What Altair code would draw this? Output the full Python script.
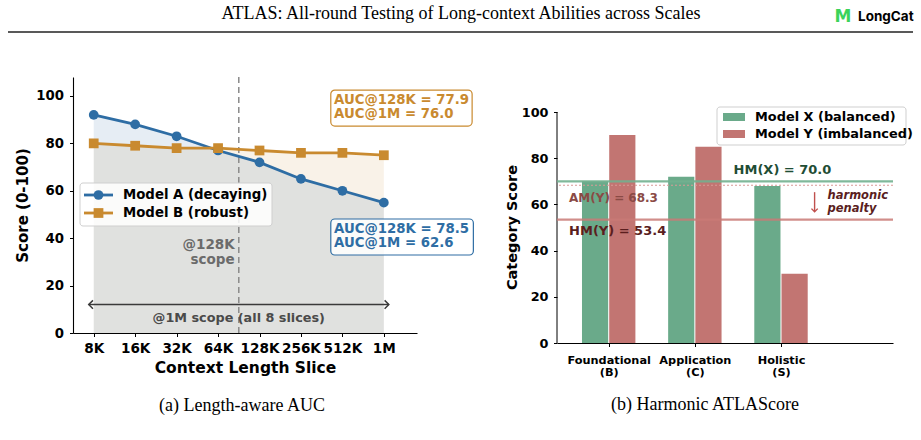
import altair as alt
import pandas as pd

# ---------------- data ----------------
slices = ["8K", "16K", "32K", "64K", "128K", "256K", "512K", "1M"]
model_a = [92, 88, 83, 77, 72, 65, 60, 55]
model_b = [80, 79, 78, 78, 77, 76, 76, 75]
series = ["Model A (decaying)", "Model B (robust)"]
auc_a = [78.5, 62.6]
auc_b = [77.9, 76.0]

categories = [["Foundational", "(B)"], ["Application", "(C)"], ["Holistic", "(S)"]]
bar_series = ["Model X (balanced)", "Model Y (imbalanced)"]
model_x = [70, 72, 68]
model_y = [90, 85, 30]
hm_x = 70.0
am_y = 68.3
hm_y = 53.4

header_title = "ATLAS: All-round Testing of Long-context Abilities across Scales"
captions = ["(a) Length-aware AUC", "(b) Harmonic ATLAScore"]

# ---------------- styles ----------------
FONT = "DejaVu Sans"
SERIF = "Liberation Serif"
BLUE = "#2e6da4"
ORANGE = "#c98a2f"
GREEN = "#62a584"
RED = "#bf6e6a"

LW, LH = 344, 256      # left plot size
RW, RH = 336, 266      # right plot size


def one(text):
    return pd.DataFrame({"t": [text]})


def txt(text, **kw):
    base = dict(font=FONT, fontWeight="bold", fontSize=13.3, align="left", baseline="middle")
    base.update(kw)
    return alt.Chart(one(text)).mark_text(**base)


# ---------------- left panel ----------------
line_df = pd.DataFrame({"i": list(range(len(slices))), "A": model_a, "B": model_b})
long_df = pd.DataFrame({
    "i": list(range(len(slices))) * 2,
    "s": ["A"] * len(slices) + ["B"] * len(slices),
    "v": model_a + model_b,
})

slice_expr = "[" + ",".join("'%s'" % s for s in slices) + "][datum.value]"
xL = alt.X("i:Q", scale=alt.Scale(domain=[-0.5, 7.8], nice=False, zero=False),
           axis=alt.Axis(values=list(range(len(slices))), labelExpr=slice_expr,
                         title="Context Length Slice", titleY=34, titleBaseline="middle",
                         labelPadding=5, tickSize=3.5, labelFontSize=13.6, titleFontSize=15.5,
                         grid=False, labelFlush=False, zindex=1))
yscaleL = alt.Scale(domain=[0, 108], nice=False)
yaxL = alt.Axis(values=[0, 20, 40, 60, 80, 100], title="Score (0-100)", titleX=-51, titleY=LH / 2,
                titleAngle=-90, titleAlign="center", titleBaseline="middle",
                labelPadding=6, tickSize=3.5, labelFontSize=13.3, titleFontSize=15, grid=False, zindex=1)

bg = alt.Chart(one("bg")).mark_rect(fill="white", strokeWidth=0).encode(
    x=alt.value(-73), x2=alt.value(921 - 73), y=alt.value(-77), y2=alt.value(440 - 77))

areaB = alt.Chart(line_df).mark_area(color=ORANGE, opacity=0.11).encode(
    x=xL, y=alt.Y("B:Q", scale=yscaleL, axis=yaxL), y2=alt.datum(0))
areaA = alt.Chart(line_df).mark_area(color=BLUE, opacity=0.12).encode(
    x=xL, y=alt.Y("A:Q", scale=yscaleL, axis=yaxL), y2=alt.datum(0))

vline = alt.Chart(one("v")).mark_rule(color="#8a8a8a", strokeDash=[6, 4], strokeWidth=1.5).encode(
    x=alt.datum(3.5), y=alt.datum(0), y2=alt.datum(108))

col = alt.Color("s:N", scale=alt.Scale(domain=["A", "B"], range=[BLUE, ORANGE]), legend=None)
lines = alt.Chart(long_df).mark_line(strokeWidth=2.8).encode(
    x=xL, y=alt.Y("v:Q", scale=yscaleL, axis=yaxL), color=col, detail="s:N")
points = alt.Chart(long_df).mark_point(filled=True, opacity=1, size=95).encode(
    x=xL, y=alt.Y("v:Q", scale=yscaleL, axis=yaxL), color=col,
    shape=alt.Shape("s:N", scale=alt.Scale(domain=["A", "B"], range=["circle", "square"]), legend=None))

scope128 = alt.Chart(pd.DataFrame({"t": ["@128K", "scope"], "y": [37, 31]})).mark_text(
    font=FONT, fontWeight="bold", fontSize=13.5, color="#6b6b6b", align="right", baseline="middle").encode(
    x=alt.datum(3.4), y=alt.Y("y:Q", scale=yscaleL, axis=yaxL), text="t:N")

arrow = alt.Chart(one("a")).mark_rule(color="#3a3a3a", strokeWidth=1.5).encode(
    x=alt.datum(-0.12), x2=alt.datum(7.12), y=alt.datum(12))
head_r = alt.Chart(one("r")).mark_point(shape="M-1,-1L0,0L-1,1", filled=False, size=70,
                                        color="#3a3a3a", strokeWidth=1.5, opacity=1).encode(
    x=alt.datum(7.12), y=alt.datum(12))
head_l = alt.Chart(one("l")).mark_point(shape="M1,-1L0,0L1,1", filled=False, size=70,
                                        color="#3a3a3a", strokeWidth=1.5, opacity=1).encode(
    x=alt.datum(-0.12), y=alt.datum(12))
scope1m = txt("@1M scope (all 8 slices)", align="center", color="#4a4a4a", fontSize=12.8).encode(
    x=alt.datum(3.5), y=alt.datum(6.2), text="t:N")

boxB = alt.Chart(one("b")).mark_rect(fill="white", fillOpacity=0.85, stroke=ORANGE, strokeWidth=1.2,
                                     cornerRadius=4).encode(
    x=alt.datum(5.72), x2=alt.datum(9.13), y=alt.datum(87.3), y2=alt.datum(102.5))
txtB1 = txt("AUC@128K = %.1f" % auc_b[0], color=ORANGE).encode(x=alt.datum(5.8), y=alt.datum(98.3), text="t:N")
txtB2 = txt("AUC@1M   = %.1f" % auc_b[1], color=ORANGE).encode(x=alt.datum(5.8), y=alt.datum(92.4), text="t:N")

boxA = alt.Chart(one("b")).mark_rect(fill="white", fillOpacity=0.85, stroke=BLUE, strokeWidth=1.2,
                                     cornerRadius=4).encode(
    x=alt.datum(5.72), x2=alt.datum(9.16), y=alt.datum(32.9), y2=alt.datum(48.1))
txtA1 = txt("AUC@128K = %.1f" % auc_a[0], color=BLUE).encode(x=alt.datum(5.8), y=alt.datum(43.9), text="t:N")
txtA2 = txt("AUC@1M   = %.1f" % auc_a[1], color=BLUE).encode(x=alt.datum(5.8), y=alt.datum(38.0), text="t:N")

# manual legend (left)
legL_box = alt.Chart(one("lg")).mark_rect(fill="white", fillOpacity=0.85, stroke="#cfcfcf",
                                          strokeWidth=1, cornerRadius=3).encode(
    x=alt.value(7), x2=alt.value(199), y=alt.value(106), y2=alt.value(149))
legL = []
for k, (name, c, shp) in enumerate(zip(series, [BLUE, ORANGE], ["circle", "square"])):
    yy = 118 + 18 * k
    legL.append(alt.Chart(one(name)).mark_rule(color=c, strokeWidth=2.8).encode(
        x=alt.value(11), x2=alt.value(40), y=alt.value(yy)))
    legL.append(alt.Chart(one(name)).mark_point(color=c, filled=True, opacity=1, size=95, shape=shp).encode(
        x=alt.value(25.5), y=alt.value(yy)))
    legL.append(txt(name, color="black").encode(x=alt.value(50), y=alt.value(yy), text="t:N"))

# header & caption (positioned relative to the left panel)
header = alt.Chart(one(header_title)).mark_text(font=SERIF, fontSize=18, color="black",
                                                align="center", baseline="middle").encode(
    x=alt.value(388), y=alt.value(-63), text="t:N")
hrule = alt.Chart(one("h")).mark_rule(color="#222222", strokeWidth=1.3).encode(
    x=alt.value(-65), x2=alt.value(840), y=alt.value(-45))
logo_icon = alt.Chart(one("M")).mark_text(font=FONT, fontWeight="bold", fontSize=17, color="#3bd35a",
                                          align="center", baseline="middle").encode(
    x=alt.value(770), y=alt.value(-60), text="t:N")
logo_txt = alt.Chart(one("LongCat")).mark_text(font="Inter", fontWeight="bold", fontSize=13.5, color="black",
                                               align="left", baseline="middle").encode(
    x=alt.value(785), y=alt.value(-60), text="t:N")
capL = alt.Chart(one(captions[0])).mark_text(font=SERIF, fontSize=18, color="black",
                                             align="center", baseline="middle").encode(
    x=alt.value(169), y=alt.value(329), text="t:N")

left = alt.layer(bg, areaB, areaA, vline, lines, points, scope128, arrow, head_r, head_l, scope1m,
                 boxB, txtB1, txtB2, boxA, txtA1, txtA2, legL_box, *legL,
                 header, hrule, logo_icon, logo_txt, capL).properties(width=LW, height=LH)

# ---------------- right panel ----------------
bar_df = pd.DataFrame({
    "i": [0, 1, 2] * 2,
    "ser": [0] * 3 + [1] * 3,
    "v": model_x + model_y,
})
cat_expr = "[" + ",".join("['%s','%s']" % (a, b) for a, b in categories) + "][datum.value]"
ytop = 100 * RH / 231.0
yscaleR = alt.Scale(domain=[0, ytop], nice=False)
yaxR = alt.Axis(values=[0, 20, 40, 60, 80, 100], title="Category Score", titleX=-45, titleY=150,
                titleAngle=-90, titleAlign="center", titleBaseline="middle", domain=False,
                labelPadding=5.5, tickSize=3.5, labelFontSize=12.8, titleFontSize=14.5, grid=False)
xscaleR = alt.Scale(domain=[-0.6, 3.3], nice=False, zero=False)
xaxR = alt.Axis(values=[0, 1, 2], labelExpr=cat_expr, title=None, labelPadding=7.5, tickSize=3.5,
                labelFontSize=11.3, labelLineHeight=12, grid=False, labelFlush=False)

bars = alt.Chart(bar_df).transform_calculate(
    x0="datum.i + (datum.ser == 0 ? -0.31 : 0.006)",
    x1="datum.i + (datum.ser == 0 ? -0.006 : 0.31)",
).mark_rect(opacity=0.95).encode(
    x=alt.X("x0:Q", scale=xscaleR, axis=xaxR), x2="x1:Q",
    y=alt.Y("v:Q", scale=yscaleR, axis=yaxR), y2=alt.datum(0),
    fill=alt.Fill("ser:N", scale=alt.Scale(domain=[0, 1], range=[GREEN, RED]), legend=None))

spine = alt.Chart(one("s")).mark_rule(color="black", strokeWidth=1).encode(
    x=alt.value(0), y=alt.datum(0), y2=alt.datum(100))

hx_line = alt.Chart(one("hx")).mark_rule(color="#72b08f", strokeWidth=2.2, opacity=0.9).encode(y=alt.datum(hm_x))
am_line = alt.Chart(one("am")).mark_rule(color="#d99a97", strokeWidth=1.2, strokeDash=[2, 2]).encode(y=alt.datum(am_y))
hy_line = alt.Chart(one("hy")).mark_rule(color="#c97a77", strokeWidth=2.2, opacity=0.85).encode(y=alt.datum(hm_y))

hx_txt = txt("HM(X) = %.1f" % hm_x, color="#1f4d35", fontSize=13).encode(
    x=alt.datum(1.45), y=alt.datum(74.9), text="t:N")
am_txt = txt("AM(Y) = %.1f" % am_y, color="#8a4a45", fontSize=12).encode(
    x=alt.datum(-0.46), y=alt.datum(62.8), text="t:N")
hy_txt = txt("HM(Y) = %.1f" % hm_y, color="#5a1e1e", fontSize=13).encode(
    x=alt.datum(-0.46), y=alt.datum(48.5), text="t:N")

pen_rule = alt.Chart(one("p")).mark_rule(color="#c0504d", strokeWidth=1.4).encode(
    x=alt.datum(2.39), y=alt.datum(65.3), y2=alt.datum(57))
pen_head = alt.Chart(one("p")).mark_point(shape="M-1,-1L0,0L1,-1", filled=False, size=40,
                                          color="#c0504d", strokeWidth=1.4, opacity=1).encode(
    x=alt.datum(2.39), y=alt.datum(56.8))
pen_txt = alt.Chart(pd.DataFrame({"t": ["harmonic", "penalty"], "y": [63.6, 58.2]})).mark_text(
    font=FONT, fontWeight="bold", fontStyle="italic", fontSize=11.5, color="#5a1e1e",
    align="left", baseline="middle").encode(
    x=alt.datum(2.54), y=alt.Y("y:Q", scale=yscaleR, axis=yaxR), text="t:N")

legR_box = alt.Chart(one("lg")).mark_rect(fill="white", fillOpacity=0.85, stroke="#cfcfcf",
                                          strokeWidth=1, cornerRadius=3).encode(
    x=alt.value(160), x2=alt.value(349), y=alt.value(30), y2=alt.value(68))
legR = []
for k, (name, c) in enumerate(zip(bar_series, [GREEN, RED])):
    yy = 40 + 17 * k
    legR.append(alt.Chart(one(name)).mark_rect(color=c, opacity=0.95).encode(
        x=alt.value(166), x2=alt.value(188), y=alt.value(yy - 4), y2=alt.value(yy + 4)))
    legR.append(txt(name, color="black", fontSize=12.9).encode(x=alt.value(198), y=alt.value(yy), text="t:N"))

capR = alt.Chart(one(captions[1])).mark_text(font=SERIF, fontSize=18, color="black",
                                             align="center", baseline="middle").encode(
    x=alt.value(148), y=alt.value(328), text="t:N")

right = alt.layer(bars, spine, hx_line, am_line, hy_line, hx_txt, am_txt, hy_txt,
                  pen_rule, pen_head, pen_txt, legR_box, *legR, capR).properties(width=RW, height=RH)

chart = alt.hconcat(left, right, spacing=140, bounds="flush").resolve_scale(
    color="independent", fill="independent", shape="independent"
).properties(
    padding=0, background="white"
).configure_view(stroke=None).configure_axis(
    labelFont=FONT, titleFont=FONT, labelFontWeight="bold", titleFontWeight="bold",
    labelColor="black", titleColor="black", domainColor="black", tickColor="black",
    domainWidth=1.1, tickWidth=1
)

chart.save("out.html", embed_options={"renderer": "svg", "actions": False})
